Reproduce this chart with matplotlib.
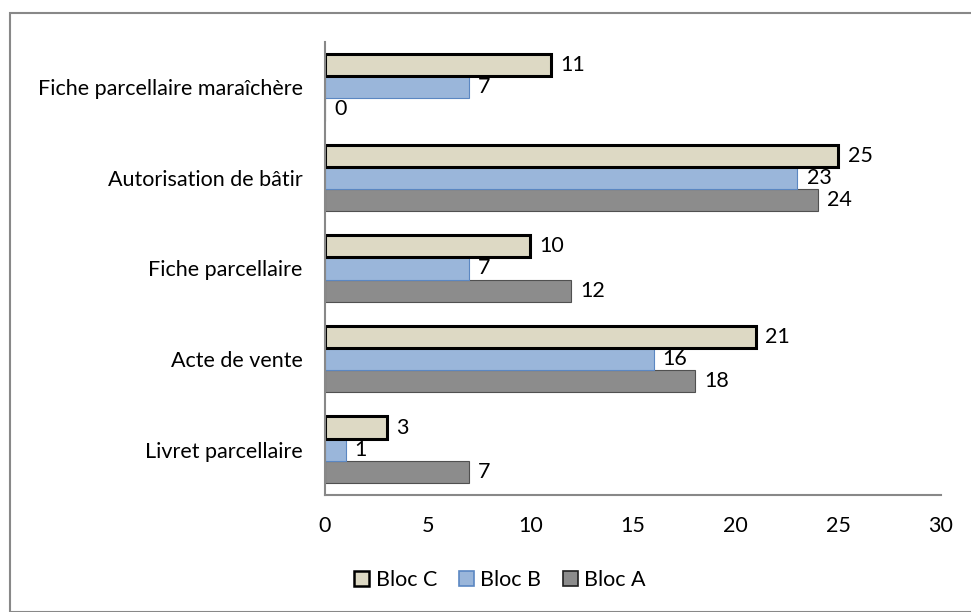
import numpy as np
import matplotlib.pyplot as plt
from matplotlib.patches import Rectangle, Patch

plt.rcParams['font.family'] = ['Lato', 'DejaVu Sans']

# data
categories = ["Livret parcellaire", "Acte de vente", "Fiche parcellaire",
              "Autorisation de bâtir", "Fiche parcellaire maraîchère"]
bloc_a = [7, 18, 12, 24, 0]
bloc_b = [1, 16, 7, 23, 7]
bloc_c = [3, 21, 10, 25, 11]

fs = 15.5

fig = plt.figure(figsize=(9.71, 6.12), dpi=100)
# outer chart border
fig.patches.append(Rectangle((10/971, 0), 2, 1 - 13/612, transform=fig.transFigure,
                             fill=False, edgecolor='#888888', linewidth=1.5))

ax = fig.add_axes([325/971, (612-495)/612, (941-325)/971, (495-42)/612])

y = np.arange(len(categories))
h = 0.245
ax.barh(y - h, bloc_a, height=h, color='#8c8c8c', edgecolor='#505050', linewidth=0.8, label='Bloc A')
ax.barh(y, bloc_b, height=h, color='#9ab6da', edgecolor='#5b87c2', linewidth=0.8, label='Bloc B')
ax.barh(y + h, bloc_c, height=h, color='#ddd9c4', edgecolor='black', linewidth=2.2, label='Bloc C')

for vals, off in ((bloc_a, -h), (bloc_b, 0), (bloc_c, h)):
    for yi, v in zip(y, vals):
        ax.text(v + 0.45, yi + off, str(v), va='center', ha='left', fontsize=fs)

ax.set_xlim(0, 30)
ax.set_ylim(-0.5, 4.5)
ax.set_xticks(range(0, 31, 5))
ax.set_yticks(y)
ax.set_yticklabels(categories)
ax.tick_params(length=0, labelsize=fs)
ax.tick_params(axis='x', pad=15)
ax.tick_params(axis='y', pad=16)
for s in ('top', 'right'):
    ax.spines[s].set_visible(False)
for s in ('left', 'bottom'):
    ax.spines[s].set_color('#888888')
    ax.spines[s].set_linewidth(1.5)

handles = [Patch(facecolor='#ddd9c4', edgecolor='black', linewidth=1.8),
           Patch(facecolor='#9ab6da', edgecolor='#5b87c2', linewidth=1.2),
           Patch(facecolor='#8c8c8c', edgecolor='#202020', linewidth=1.2)]
fig.legend(handles, ['Bloc C', 'Bloc B', 'Bloc A'], loc='center',
           bbox_to_anchor=(500/971, 1 - 580/612), ncol=3, frameon=False,
           fontsize=fs, handlelength=0.7, handleheight=0.7, columnspacing=1.0,
           handletextpad=0.3)

plt.savefig('out.png', dpi=100)
